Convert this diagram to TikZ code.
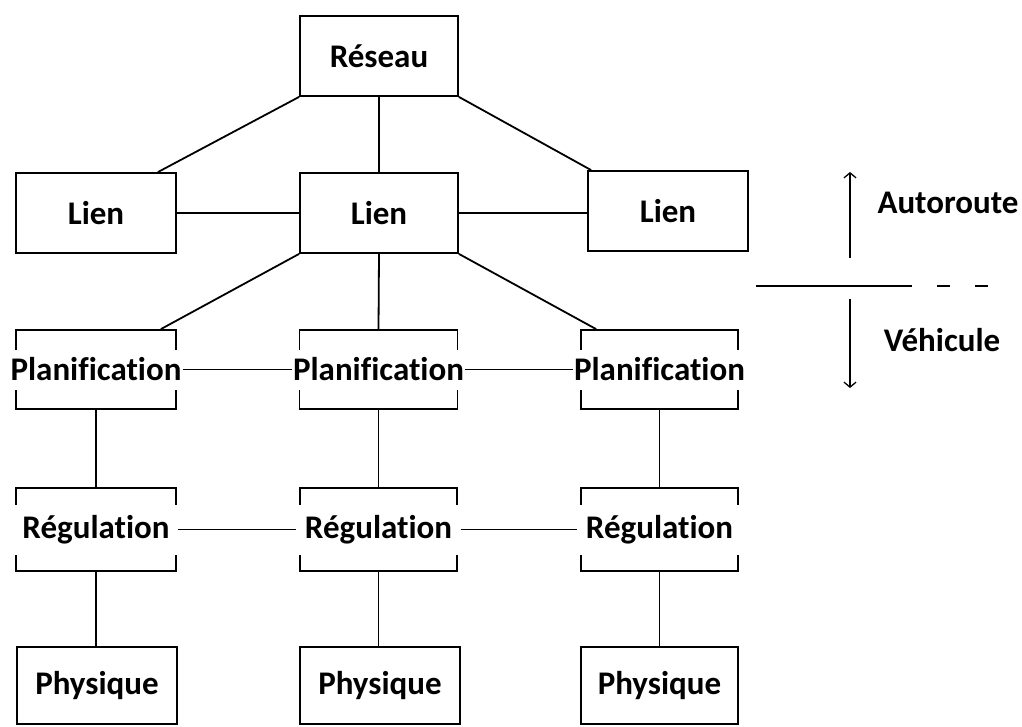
\documentclass[tikz,border=0pt]{standalone}
\usepackage{fontspec}
\setmainfont[Ligatures=NoCommon]{Carlito}
\usetikzlibrary{arrows.meta}
\begin{document}
\begin{tikzpicture}[x=1pt,y=-1pt,
  every node/.style={font=\fontsize{33}{39}\selectfont\bfseries},
  layerbox/.style={draw, line width=1.8pt, minimum width=158pt, minimum height=80pt, inner sep=0pt},
  cutlabel/.style={fill=white, inner xsep=1pt, inner ysep=0pt, minimum width=164pt},
  link/.style={line width=1.8pt},
  legendarrow/.style={line width=1.3pt, -{Straight Barb[length=5pt,width=12pt]}},
  legendline/.style={line width=1.3pt}
]
\useasboundingbox (0,0) rectangle (1022,726);

% network level
\node[layerbox] (res) at (379,56) {Réseau};

% link level
\node[layerbox, minimum width=160pt] (l1) at (96,213) {Lien};
\node[layerbox] (l2) at (379,213) {Lien};
\node[layerbox, minimum width=160pt] (l3) at (668,211) {Lien};

% planning level (label cuts the box sides)
\node[layerbox, minimum width=160pt, minimum height=79pt] (p1) at (96,369.5) {};
\node[layerbox, minimum height=79pt] (p2) at (378.5,369.5) {};
\node[layerbox, minimum width=157pt, minimum height=79pt] (p3) at (659.5,369.5) {};
\node[cutlabel, minimum height=40pt] (pl1) at (p1) {Planification};
\node[cutlabel, minimum height=40pt] (pl2) at (p2) {Planification};
\node[cutlabel, minimum height=40pt] (pl3) at (p3) {Planification};

% regulation level
\node[layerbox, minimum width=160pt, minimum height=83pt] (r1) at (96,529.5) {};
\node[layerbox, minimum width=157pt, minimum height=83pt] (r2) at (378.5,529.5) {};
\node[layerbox, minimum width=157pt, minimum height=83pt] (r3) at (659.5,529.5) {};
\node[cutlabel, minimum height=50pt] (rl1) at (r1) {Régulation};
\node[cutlabel, minimum height=50pt] (rl2) at (r2) {Régulation};
\node[cutlabel, minimum height=50pt] (rl3) at (r3) {Régulation};

% physical level
\node[layerbox, minimum width=160pt, minimum height=77pt] (ph1) at (97,685.5) {Physique};
\node[layerbox, minimum width=160pt, minimum height=77pt] (ph2) at (380,685.5) {Physique};
\node[layerbox, minimum width=157pt, minimum height=77pt] (ph3) at (659.5,685.5) {Physique};

% tree connections
\draw[link] (res.south west) -- ([xshift=-19pt]l1.north east);
\draw[link] (res.south) -- (l2.north);
\draw[link] (res.south east) -- ([xshift=4pt]l3.north west);
\draw[link] (l1.east) -- (l2.west);
\draw[link] (l2.east) -- (l2.east -| l3.west);
\draw[link] (l2.south west) -- ([xshift=-16pt]p1.north east);
\draw[link] (l2.south) -- (p2.north);
\draw[link] (l2.south east) -- ([xshift=16pt]p3.north west);
\draw[link] (pl1.east) -- (pl2.west);
\draw[link] (pl2.east) -- (pl3.west);
\draw[link] (rl1.east) -- (rl2.west);
\draw[link] (rl2.east) -- (rl3.west);
\foreach \i in {1,2,3} {
  \draw[link] (p\i.south) -- (p\i.south |- r\i.north);
  \draw[link] (r\i.south) -- (r\i.south |- ph\i.north);
}

% legend: highway / vehicle split
\coordinate (upfoot) at (850,258);
\coordinate (uptip) at (850,172);
\coordinate (downfoot) at (850,299);
\coordinate (downtip) at (850,388);
\coordinate (sepa) at (756,286);
\coordinate (sepb) at (912,286);
\coordinate (dashaa) at (937,286);
\coordinate (dashab) at (950,286);
\coordinate (dashba) at (975,286);
\coordinate (dashbb) at (988,286);
\draw[legendarrow] (upfoot) -- (uptip);
\draw[legendarrow] (downfoot) -- (downtip);
\draw[legendline] (sepa) -- (sepb);
\draw[legendline] (dashaa) -- (dashab);
\draw[legendline] (dashba) -- (dashbb);
\node (auto) at (948,203) {Autoroute};
\node (vehi) at (942,340) {Véhicule};
\end{tikzpicture}
\end{document}
